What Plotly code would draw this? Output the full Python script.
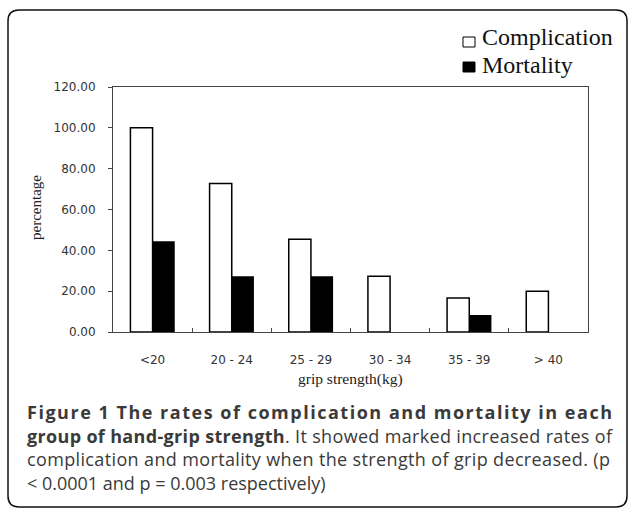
import json
import plotly.graph_objects as go

categories = ["<20", "20 - 24", "25 - 29", "30 - 34", "35 - 39", "> 40"]
complication = [100.0, 72.73, 45.45, 27.27, 16.67, 20.0]
mortality = [44.44, 27.27, 27.27, 0.0, 8.33, 0.0]
y_ticks = [0, 20, 40, 60, 80, 100, 120]

W, H = 629, 508
L, R, T, B = 113, 588, 87, 332


def px(x):
    return (x - L) / (R - L)


def py(y):
    return (B - y) / (B - T)


fig = go.Figure()
fig.add_trace(go.Bar(name="Complication", x=categories, y=complication,
                     marker=dict(color="white", line=dict(color="black", width=1.5))))
fig.add_trace(go.Bar(name="Mortality", x=categories, y=mortality,
                     marker=dict(color="black", line=dict(color="black", width=0))))

fig.update_layout(
    width=W, height=H,
    margin=dict(l=L, r=W - R, t=T, b=H - B, pad=0),
    paper_bgcolor="white", plot_bgcolor="white",
    barmode="group", bargap=0.44, bargroupgap=0,
    showlegend=False,
    font=dict(family="DejaVu Sans", size=12, color="#333"),
)
fig.update_xaxes(
    showline=True, linecolor="#444", linewidth=1, mirror=True,
    ticks="inside", tickson="boundaries", ticklen=4, tickcolor="#444",
    tickfont=dict(family="DejaVu Sans", size=12, color="#333"),
    ticklabelstandoff=17, showgrid=False,
)
fig.update_yaxes(
    range=[0, 120], tickvals=y_ticks, tickformat=".2f",
    showline=True, linecolor="#444", linewidth=1, mirror=True,
    ticks="outside", ticklen=4, tickcolor="#444",
    tickfont=dict(family="DejaVu Sans", size=12, color="#333"),
    ticklabelstandoff=10, showgrid=False, zeroline=False,
)

ann = []
# axis titles
ann.append(dict(text="percentage", x=px(36), y=py(208), xref="paper", yref="paper",
                textangle=-90, showarrow=False, xanchor="center", yanchor="middle",
                font=dict(family="Liberation Serif", size=15, color="#222")))
ann.append(dict(text="grip strength(kg)", x=px(350), y=py(379), xref="paper", yref="paper",
                showarrow=False, xanchor="center", yanchor="middle",
                font=dict(family="Liberation Serif", size=15.5, color="#222")))
# legend
for name, yy in [("Complication", 37), ("Mortality", 65)]:
    ann.append(dict(text=name, x=px(480), y=py(yy), xref="paper", yref="paper",
                    showarrow=False, xanchor="left", yanchor="middle", align="left",
                    font=dict(family="Liberation Serif", size=24, color="#111")))
shapes = [
    dict(type="rect", xref="paper", yref="paper", x0=px(463), x1=px(475), y0=py(47), y1=py(37),
         fillcolor="white", line=dict(color="black", width=1)),
    dict(type="rect", xref="paper", yref="paper", x0=px(463), x1=px(475), y0=py(72), y1=py(62),
         fillcolor="black", line=dict(color="black", width=1)),
]
# caption
cap_font = dict(family="Open Sans", size=18, color="#3a3a3a")
lines = [
    "<b>Figure 1 The rates of complication and mortality in each</b>",
    "<b>group of hand-grip strength</b>. It showed marked increased rates of",
    "complication and mortality when the strength of grip decreased. (p",
    "&lt; 0.0001 and p = 0.003 respectively)",
]
for i, t in enumerate(lines):
    ann.append(dict(text=t, x=px(24.5), y=py(412 + 23.7 * i), xref="paper", yref="paper",
                    showarrow=False, xanchor="left", yanchor="middle", align="left",
                    font=cap_font))

# rounded border
x0, x1, y0, y1, r = 8, 627, 10, 507, 11
path = (f"M {px(x0)},{py(y0 + r)} Q {px(x0)},{py(y0)} {px(x0 + r)},{py(y0)} "
        f"L {px(x1 - r)},{py(y0)} Q {px(x1)},{py(y0)} {px(x1)},{py(y0 + r)} "
        f"L {px(x1)},{py(y1 - r)} Q {px(x1)},{py(y1)} {px(x1 - r)},{py(y1)} "
        f"L {px(x0 + r)},{py(y1)} Q {px(x0)},{py(y1)} {px(x0)},{py(y1 - r)} Z")
shapes.append(dict(type="path", xref="paper", yref="paper", path=path,
                   line=dict(color="#111", width=1.5)))

fig.update_layout(annotations=ann, shapes=shapes)

# justified caption lines (text widths in px)
justify = {"Figure 1 The rates": 585, "group of hand-grip": 585, "complication and mortality when": 583}
js = """
document.body.style.margin = '0';
document.body.style.overflow = 'hidden';
var gd = document.getElementById('{plot_id}');
var targets = JUSTIFY;
gd.querySelectorAll('text.annotation-text').forEach(function(t){
  var s = t.textContent;
  Object.keys(targets).forEach(function(k){
    if (s.indexOf(k) === 0) {
      t.setAttribute('textLength', targets[k]);
      t.setAttribute('lengthAdjust', 'spacing');
    }
  });
});
""".replace("JUSTIFY", json.dumps(justify))
fig.write_html("out.html", post_script=js, config={"displayModeBar": False})
